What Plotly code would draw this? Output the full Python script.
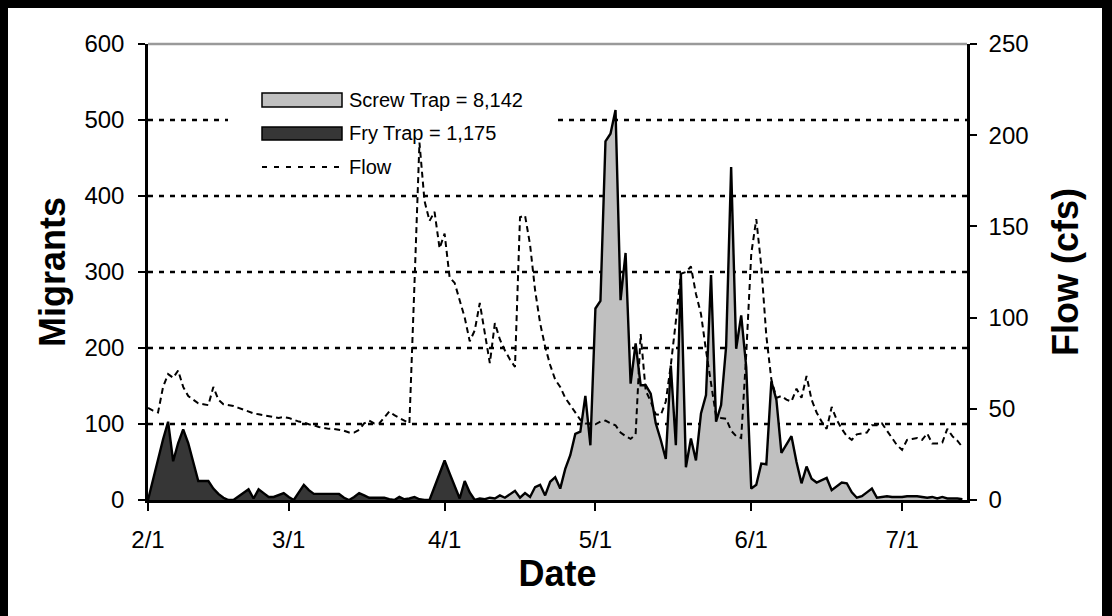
import pandas as pd
import plotly.graph_objects as go

# ---------------- data (daily values) ----------------
season_start = "2001-02-01"

fry_trap = [0, 27, 53, 80, 103, 51, 75, 93, 75, 50,
            25, 25, 25, 15, 8, 3, 0, 0, 5, 10,
            14, 2, 14, 9, 4, 4, 6, 9, 4, 0,
            10, 20, 13, 8, 8, 8, 8, 8, 8, 3,
            0, 4, 9, 6, 3, 3, 3, 3, 1, 0,
            4, 1, 2, 4, 1, 0, 0, 17, 35, 52,
            35, 18, 2, 25, 10, 0]

screw_start = "2001-04-07"
screw_trap = [0, 2, 1, 3, 2, 6, 3, 8, 12, 3,
              9, 4, 17, 20, 6, 24, 30, 15, 41, 59,
              87, 90, 137, 72, 252, 262, 472, 482, 513, 263,
              325, 153, 206, 151, 151, 140, 101, 79, 54, 177,
              72, 298, 43, 81, 52, 114, 138, 296, 103, 125,
              202, 438, 199, 243, 175, 15, 20, 48, 47, 156,
              132, 62, 73, 84, 50, 22, 44, 28, 23, 26,
              29, 13, 18, 23, 22, 10, 3, 5, 10, 15,
              3, 4, 5, 4, 4, 4, 5, 5, 5, 4,
              3, 4, 2, 4, 2, 2, 2, 1]

flow_cfs = [50.5, 49, 48, 62, 69, 67, 71, 62, 57, 55,
            53, 52.5, 52, 62, 55, 52.5, 52, 51.5, 50.5, 49.5,
            48.5, 47.5, 47, 46.5, 46, 45.5, 45, 45.5, 45, 44,
            43, 42.5, 41.5, 41, 40, 39.5, 39, 39, 38.5, 38,
            37, 37, 38.5, 42, 43.5, 42, 42, 45, 48.5, 46.5,
            45, 43.5, 42, 118, 196, 164, 153, 158, 138, 146,
            122, 119, 110, 100, 87, 93, 108, 91, 75, 97,
            88, 82, 77, 73, 155, 156, 140, 115, 97, 84,
            74, 66, 62, 56, 52, 48, 44, 42, 42, 41.5,
            43, 43.5, 42, 41, 37, 35, 33.5, 36, 91, 60,
            54, 47, 46.5, 54, 74, 98, 124, 125, 128, 113,
            102, 82, 63, 46, 45, 44.5, 38, 35, 34, 80,
            135, 154, 128, 90, 66, 56, 57, 55, 54, 61,
            56, 68, 55, 48, 43, 39, 51, 44, 39, 35,
            33, 36, 36.5, 37, 41, 41, 42, 38, 34.5, 30,
            27.5, 33, 33.5, 34, 33, 36.5, 31, 31, 31.5, 39,
            35, 32.5, 29]

tick_dates = ["2001-02-01", "2001-03-01", "2001-04-01", "2001-05-01", "2001-06-01", "2001-07-01"]
tick_labels = ["2/1", "3/1", "4/1", "5/1", "6/1", "7/1"]
migrant_ticks = [0, 100, 200, 300, 400, 500, 600]
flow_ticks = [0, 50, 100, 150, 200, 250]
legend_labels = ["Screw Trap = 8,142", "Fry Trap = 1,175", "Flow"]

x_fry = pd.date_range(season_start, periods=len(fry_trap), freq="D")
x_screw = pd.date_range(screw_start, periods=len(screw_trap), freq="D")
x_flow = pd.date_range(season_start, periods=len(flow_cfs), freq="D")

FONT = "Liberation Sans, Arial, sans-serif"

fig = go.Figure()
fig.add_trace(go.Scatter(x=x_fry, y=fry_trap, mode="lines", fill="tozeroy",
                         fillcolor="#363636", line=dict(color="black", width=2.4),
                         name=legend_labels[1], showlegend=False))
fig.add_trace(go.Scatter(x=x_screw, y=screw_trap, mode="lines", fill="tozeroy",
                         fillcolor="#c0c0c0", line=dict(color="black", width=2.4),
                         name=legend_labels[0], showlegend=False))
fig.add_trace(go.Scatter(x=x_flow, y=flow_cfs, mode="lines", yaxis="y2",
                         line=dict(color="black", width=2, dash="6px,4px"),
                         name=legend_labels[2], showlegend=False))

# plot area in pixels
L, R, T, B = 148, 967, 44, 500
W, H = 1112, 616


def px(xp):
    return (xp - L) / (R - L)


def py(yp):
    return (B - yp) / (B - T)


shapes = []
# dotted horizontal gridlines (the 500 line is interrupted by the legend)
grid_style = dict(color="black", width=2.5, dash="5px,6px")
for v in migrant_ticks[1:-1]:
    if v == 500:
        segs = [(0, px(228)), (px(558), 1)]
    else:
        segs = [(0, 1)]
    for a, b in segs:
        shapes.append(dict(type="line", xref="paper", yref="y", x0=a, x1=b, y0=v, y1=v,
                           line=grid_style, layer="below"))
# grey top border
shapes.append(dict(type="line", xref="paper", yref="paper", x0=0, x1=1, y0=1, y1=1,
                   line=dict(color="#9a9a9a", width=2.5), layer="above"))
# legend symbols
shapes.append(dict(type="rect", xref="paper", yref="paper", x0=px(262), x1=px(342),
                   y0=py(107), y1=py(93), fillcolor="#c0c0c0",
                   line=dict(color="black", width=1.5), layer="above"))
shapes.append(dict(type="rect", xref="paper", yref="paper", x0=px(262), x1=px(342),
                   y0=py(140), y1=py(127), fillcolor="#363636",
                   line=dict(color="black", width=1.5), layer="above"))
shapes.append(dict(type="line", xref="paper", yref="paper", x0=px(262), x1=px(342),
                   y0=py(167), y1=py(167),
                   line=dict(color="black", width=2, dash="5px,7px"), layer="above"))
# outer black frame (top, left, right)
for (a, b, c, d) in [(0, 0, W, 8), (0, 0, 8, H), (W - 10, 0, W, H)]:
    shapes.append(dict(type="rect", xref="paper", yref="paper", x0=px(a), x1=px(c),
                       y0=py(d), y1=py(b), fillcolor="black", line=dict(width=0),
                       layer="above"))

annotations = []
for lab, yy in zip(legend_labels, [100, 133, 167]):
    annotations.append(dict(text=lab, xref="paper", yref="paper", x=px(347), y=py(yy),
                            xanchor="left", yanchor="middle", showarrow=False,
                            font=dict(family=FONT, size=20, color="black")))

fig.update_layout(
    width=W, height=H,
    margin=dict(l=L, r=W - R, t=T, b=H - B),
    paper_bgcolor="white", plot_bgcolor="white",
    font=dict(family=FONT, color="black", size=24),
    showlegend=False,
    shapes=shapes, annotations=annotations,
    xaxis=dict(type="date", range=["2001-02-01", "2001-07-13 22:00"],
               tickvals=tick_dates, ticktext=tick_labels,
               showline=True, linecolor="black", linewidth=2.5,
               ticks="outside", ticklen=8, tickwidth=2, tickcolor="black",
               showgrid=False, zeroline=False, ticklabelstandoff=8,
               title=dict(text="<b>Date</b>", font=dict(size=36), standoff=10)),
    yaxis=dict(range=[0, 600], tickvals=migrant_ticks,
               showline=True, linecolor="black", linewidth=2.5,
               ticks="outside", ticklen=7, tickwidth=2, tickcolor="black",
               showgrid=False, zeroline=False, ticklabelstandoff=9,
               title=dict(text="<b>Migrants</b>", font=dict(size=36), standoff=8)),
    yaxis2=dict(range=[0, 250], tickvals=flow_ticks, overlaying="y", side="right",
                showline=True, linecolor="black", linewidth=2.5,
                ticks="outside", ticklen=7, tickwidth=2, tickcolor="black",
                showgrid=False, zeroline=False, ticklabelstandoff=7,
                title=dict(text="<b>Flow (cfs)</b>", font=dict(size=36), standoff=26)),
)

fig.write_html("out.html")
